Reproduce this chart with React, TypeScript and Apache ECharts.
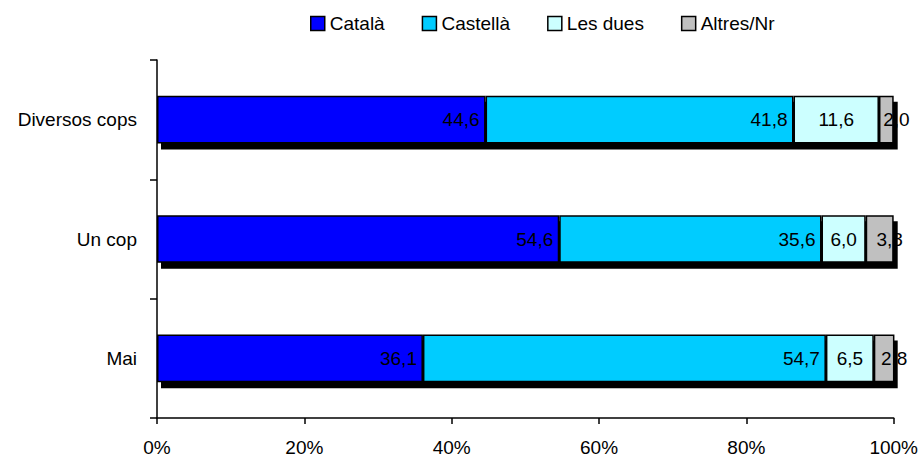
import React, { useEffect, useRef } from "react";
import * as echarts from "echarts";

// Response categories, bottom to top on the vertical axis
const categories = ["Mai", "Un cop", "Diversos cops"];

// Share of each language (%), one value per category above
const catala = [36.1, 54.6, 44.6];
const castella = [54.7, 35.6, 41.8];
const lesDues = [6.5, 6.0, 11.6];
const altres = [2.8, 3.8, 2.0];

const seriesNames = ["Català", "Castellà", "Les dues", "Altres/Nr"];
const seriesColors = ["#0000FF", "#00CCFF", "#CCFFFF", "#C0C0C0"];

const xTicks = [0, 20, 40, 60, 80, 100];

const FONT = "'Liberation Sans', Arial, sans-serif";
const FS = 19;

const fmt = (v: number) => v.toFixed(1).replace(".", ",");

export default function App() {
  const ref = useRef<HTMLDivElement>(null);

  useEffect(() => {
    if (!ref.current) return;
    const chart = echarts.init(ref.current, undefined, { renderer: "svg" });

    const values = [catala, castella, lesDues, altres];
    const totals = categories.map((_, i) =>
      Math.min(100, values.reduce((s, arr) => s + arr[i], 0))
    );

    const labelPos: any[] = [
      { position: "insideRight", distance: 6, offset: [0, 0] },
      { position: "insideRight", distance: 6, offset: [0, 0] },
      { position: "inside", distance: 5, offset: [0, 0] },
      { position: "inside", distance: 5, offset: [10, 0] },
    ];

    const barSeries = values.map((arr, k) => ({
      name: seriesNames[k],
      type: "bar",
      stack: "total",
      barWidth: "40%",
      z: 3,
      data: arr,
      itemStyle: {
        color: seriesColors[k],
        borderColor: "#000",
        borderWidth: 1.5,
      },
      label: {
        show: true,
        ...labelPos[k],
        color: "#000",
        fontFamily: FONT,
        fontSize: FS,
        formatter: (p: any) => fmt(p.value),
      },
    }));

    // Drop shadow behind each full stacked bar
    const shadowSeries = {
      type: "custom",
      z: 1,
      silent: true,
      encode: { x: 0, y: 1 },
      data: totals.map((t, i) => [t, i]),
      renderItem: (params: any, api: any) => {
        const idx = api.value(1);
        const start = api.coord([0, idx]);
        const end = api.coord([api.value(0), idx]);
        const h = api.size([0, 1])[1] * 0.4;
        return {
          type: "rect",
          shape: {
            x: start[0] + 4,
            y: start[1] - h / 2 + 6,
            width: end[0] - start[0],
            height: h,
          },
          style: { fill: "#000" },
        };
      },
    };

    chart.setOption({
      animation: false,
      backgroundColor: "#fff",
      textStyle: { fontFamily: FONT },
      legend: {
        left: 305,
        top: 9,
        itemWidth: 14,
        itemHeight: 14,
        itemGap: 37,
        icon: "rect",
        data: seriesNames.map((n) => ({
          name: n,
          itemStyle: { borderColor: "#000", borderWidth: 1.5 },
        })),
        textStyle: { color: "#000", fontFamily: FONT, fontSize: FS },
      },
      grid: { left: 157, right: 25, top: 60, bottom: 39, containLabel: false },
      xAxis: {
        type: "value",
        min: xTicks[0],
        max: xTicks[xTicks.length - 1],
        interval: xTicks[1] - xTicks[0],
        axisLine: { show: true, lineStyle: { color: "#000", width: 1.5 } },
        axisTick: { show: true, length: 6, lineStyle: { color: "#000", width: 1.5 } },
        splitLine: { show: false },
        axisLabel: {
          color: "#000",
          fontFamily: FONT,
          fontSize: FS,
          margin: 20,
          formatter: "{value}%",
        },
      },
      yAxis: {
        type: "category",
        data: categories,
        axisLine: { show: true, lineStyle: { color: "#000", width: 1.5 } },
        axisTick: { show: true, length: 7, lineStyle: { color: "#000", width: 1.5 } },
        axisLabel: {
          color: "#000",
          fontFamily: FONT,
          fontSize: FS,
          margin: 20,
        },
      },
      series: [shadowSeries, ...barSeries],
    });

    return () => chart.dispose();
  }, []);

  return (
    <div
      ref={ref}
      style={{ position: "fixed", left: 0, top: 0, width: 921, height: 457 }}
    />
  );
}
